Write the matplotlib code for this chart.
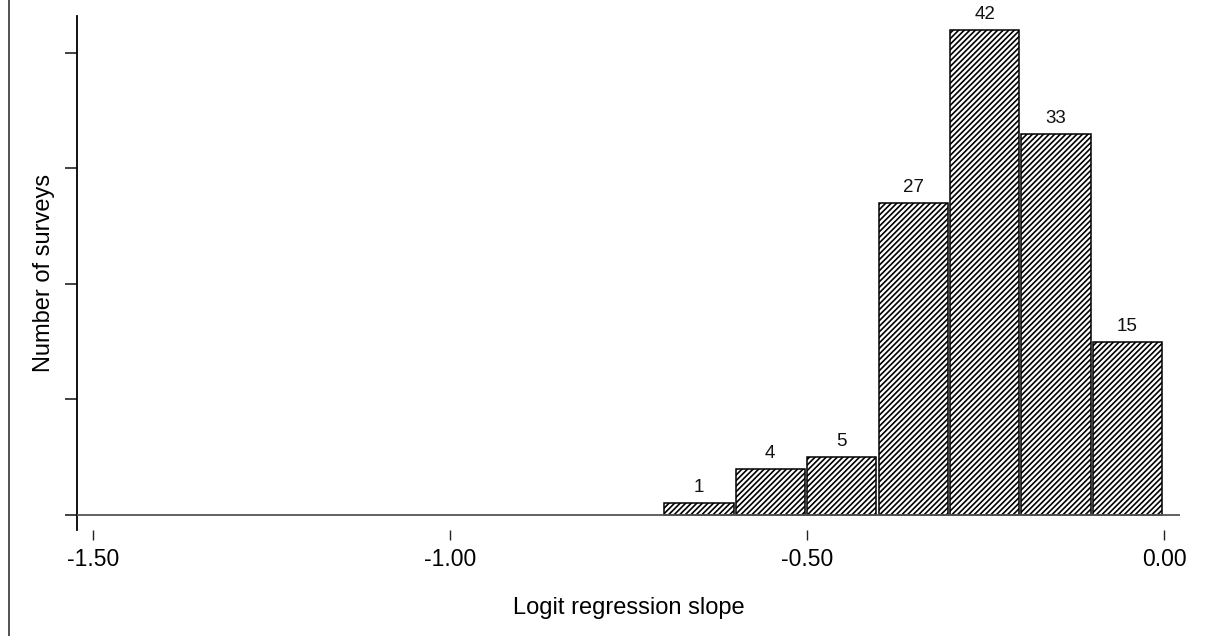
import matplotlib
matplotlib.use("Agg")
import matplotlib.pyplot as plt
from matplotlib.lines import Line2D

plt.rcParams['font.family'] = ['Liberation Sans', 'DejaVu Sans']
plt.rcParams['hatch.linewidth'] = 1.2
plt.rcParams['hatch.color'] = '#333333'

# Histogram of logit regression slopes (bin left edges, width 0.1)
bin_left = [-0.7, -0.6, -0.5, -0.4, -0.3, -0.2, -0.1]
counts = [1, 4, 5, 27, 42, 33, 15]
bin_width = 0.1
x_ticks = [-1.5, -1.0, -0.5, 0.0]
x_tick_labels = ['-1.50', '-1.00', '-0.50', '0.00']
y_ticks = [0, 10, 20, 30, 40]

W, H = 1225, 636
fig = plt.figure(figsize=(W / 100, H / 100), dpi=100)
ax = fig.add_axes([77 / W, 1 - 530 / H, (1180 - 77) / W, (530 - 16) / H])

bars = ax.bar(bin_left, counts, width=bin_width * 0.97, align='edge',
              facecolor='white', edgecolor='black', linewidth=1.1,
              hatch='//////', zorder=2)
for b, c in zip(bars, counts):
    ax.annotate(str(c), (b.get_x() + b.get_width() / 2, c),
                xytext=(0, 5), textcoords='offset points',
                ha='center', va='bottom', fontsize=13.5, color='#111111')

ax.axhline(0, color='#555555', linewidth=1.3, zorder=3)

ax.set_xlim(-1.522, 0.022)
ax.set_ylim(-1.3, 43.2)

ax.set_xticks(x_ticks)
ax.set_xticklabels(x_tick_labels)
ax.set_yticks(y_ticks)
ax.set_yticklabels([])
ax.tick_params(axis='x', length=7, width=1.0, pad=6, labelsize=16.5, color='#222222')
ax.tick_params(axis='y', length=9, width=1.2, color='#222222')

for s in ['top', 'right', 'bottom']:
    ax.spines[s].set_visible(False)
ax.spines['left'].set_linewidth(1.3)

ax.set_xlabel('Logit regression slope', fontsize=17, labelpad=19)
ax.set_ylabel('Number of surveys', fontsize=17)
ax.yaxis.set_label_coords(-0.020, 0.5)

# left frame rule
fig.add_artist(Line2D([8.5 / W, 8.5 / W], [0, 1], color='#444444', linewidth=1.3,
                      transform=fig.transFigure))

fig.savefig('out.png', dpi=100)
